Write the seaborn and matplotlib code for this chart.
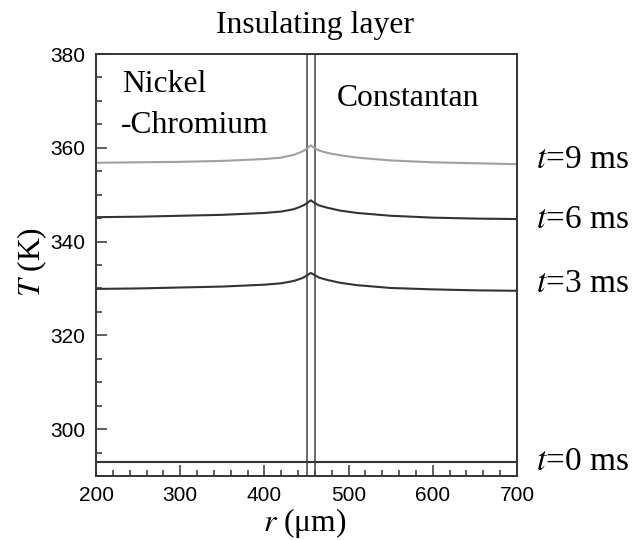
import numpy as np
import pandas as pd
import matplotlib
matplotlib.use("Agg")
import matplotlib.pyplot as plt
import seaborn as sns
from matplotlib.ticker import MultipleLocator

# ---- data ----
r_um = [200, 250, 300, 350, 400, 420, 435, 445, 450, 455, 460, 465, 475, 490, 510, 550, 600, 650, 700]
T_0ms = [293.0] * 19
T_3ms = [329.9, 330.0, 330.2, 330.4, 330.8, 331.1, 331.6, 332.2, 332.7, 333.3, 332.8, 332.3, 331.8, 331.2, 330.7, 330.1, 329.8, 329.6, 329.5]
T_6ms = [345.2, 345.3, 345.5, 345.7, 346.1, 346.4, 346.9, 347.6, 348.1, 348.8, 348.2, 347.7, 347.2, 346.6, 346.1, 345.5, 345.1, 344.9, 344.8]
T_9ms = [356.8, 356.9, 357.0, 357.2, 357.6, 357.9, 358.5, 359.2, 359.8, 360.5, 359.9, 359.4, 358.9, 358.4, 357.9, 357.3, 356.9, 356.7, 356.5]
series_names = ["t=0 ms", "t=3 ms", "t=6 ms", "t=9 ms"]
series_labels = ["$t$=0 ms", "$t$=3 ms", "$t$=6 ms", "$t$=9 ms"]
interface_r = [450, 460]

df = pd.concat([
    pd.DataFrame({"r": r_um, "T": vals, "time": name})
    for name, vals in zip(series_names, [T_0ms, T_3ms, T_6ms, T_9ms])
])

sns.set_theme(style="ticks")
plt.rcParams["font.family"] = ["Liberation Serif", "DejaVu Serif"]
plt.rcParams["mathtext.fontset"] = "stix"
plt.rcParams["text.color"] = "black"

fig = plt.figure(figsize=(6.33, 5.4), dpi=100)
ax = fig.add_axes([96 / 633, 1 - 476 / 540, (517 - 96) / 633, (476 - 54) / 540])

palette = {"t=0 ms": "#333333", "t=3 ms": "#333333", "t=6 ms": "#333333", "t=9 ms": "#a0a0a0"}
sns.lineplot(data=df, x="r", y="T", hue="time", palette=palette, linewidth=1.5,
             legend=False, ax=ax, estimator=None, sort=False)

for xv in interface_r:
    ax.axvline(xv, color="#444444", linewidth=1.1, zorder=1)

ax.set_xlim(200, 700)
ax.set_ylim(290, 380)
ax.xaxis.set_major_locator(MultipleLocator(100))
ax.xaxis.set_minor_locator(MultipleLocator(20))
ax.yaxis.set_major_locator(MultipleLocator(20))
ax.yaxis.set_minor_locator(MultipleLocator(5))
ax.tick_params(which="both", direction="in", color="#333333", width=1.1,
               top=False, right=False)
ax.tick_params(which="major", length=8)
ax.tick_params(which="minor", length=4)
ax.tick_params(axis="x", which="major", pad=7)
ax.tick_params(axis="y", which="major", pad=8)
for lab in ax.get_xticklabels() + ax.get_yticklabels():
    lab.set_fontfamily("Liberation Sans")
    lab.set_fontsize(15)
    lab.set_color("black")
for sp in ax.spines.values():
    sp.set_color("#333333")
    sp.set_linewidth(1.4)
ax.set_xlabel("")
ax.set_ylabel("")

fs = 22.8
fig.text(32 / 633, 1 - 262 / 540, "$T$ (K)", rotation=90, ha="center", va="center", fontsize=fs)
fig.text(305 / 633, 1 - 523 / 540, "$r$ (\u03bcm)", ha="center", va="center", fontsize=fs)
fig.text(315 / 633, 1 - 25 / 540, "Insulating layer", ha="center", va="center", fontsize=fs)
fig.text(122 / 633, 1 - 92 / 540, "Nickel", ha="left", va="baseline", fontsize=fs)
fig.text(121 / 633, 1 - 133 / 540, "-Chromium", ha="left", va="baseline", fontsize=fs)
fig.text(337 / 633, 1 - 106 / 540, "Constantan", ha="left", va="baseline", fontsize=fs)

label_y = {"$t$=9 ms": 160, "$t$=6 ms": 220, "$t$=3 ms": 284, "$t$=0 ms": 462}
for lab in series_labels:
    fig.text(536 / 633, 1 - label_y[lab] / 540, lab, ha="left", va="center", fontsize=24)

fig.savefig("out.png", dpi=100)
